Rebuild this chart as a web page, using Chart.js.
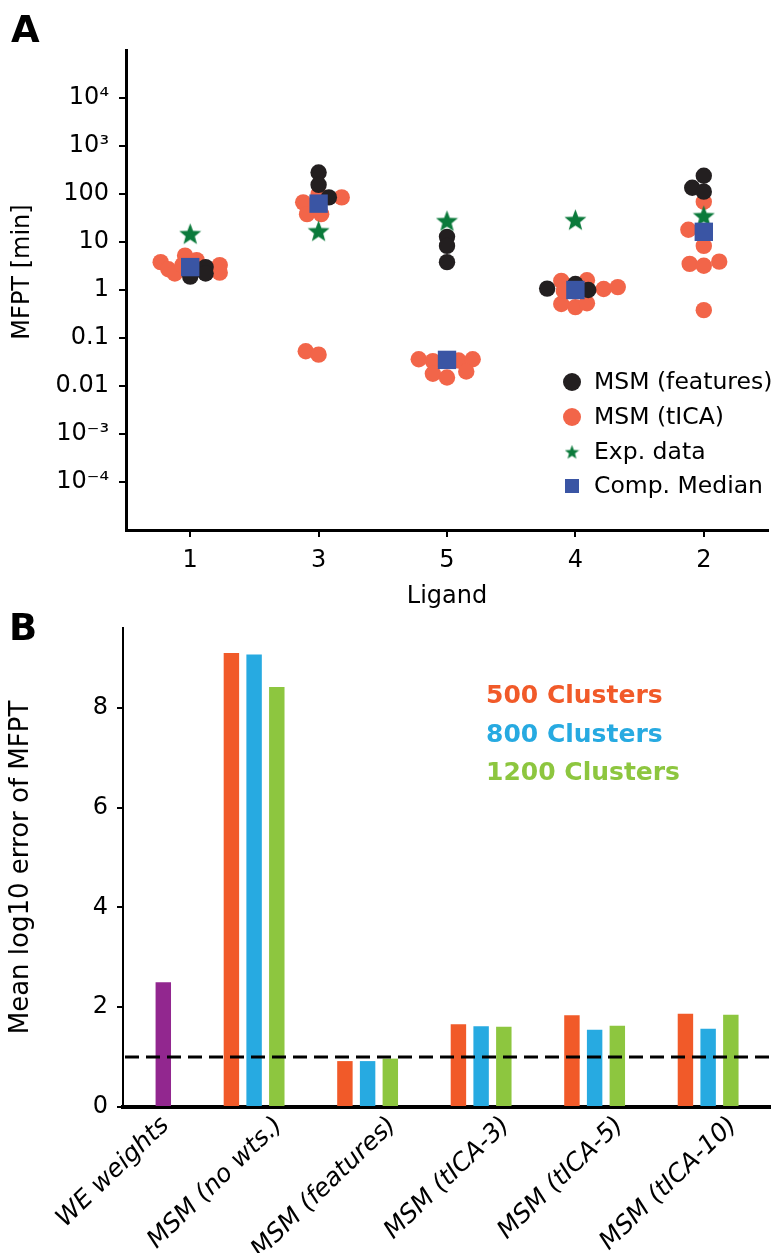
<!DOCTYPE html>
<html>
<head>
<meta charset="utf-8">
<script src="https://cdn.jsdelivr.net/npm/chart.js@4"></script>
<style>
  html, body { margin: 0; padding: 0; background: #fff; width: 781px; height: 1253px; overflow: hidden; }
  #panelA { position: absolute; left: 0; top: 0; }
  #panelB { position: absolute; left: 0; top: 600px; }
</style>
</head>
<body>
<canvas id="panelA" width="781" height="620"></canvas>
<canvas id="panelB" width="781" height="677"></canvas>
<script>
// ---------- Panel A: MFPT per ligand (min) ----------
const ligands = ['1', '3', '5', '4', '2'];

// MSM (features) values per ligand and their horizontal jitter (category units)
const featuresMfpt = [[1.9, 3.0, 2.2], [280, 155, 85], [12.8, 8.3, 3.8], [1.07, 1.0, 1.33], [240, 135, 112]];
const featuresJitter = [[0, 0.12, 0.12], [0, 0, 0.08], [0, 0, 0], [-0.22, 0.1, 0], [0, -0.09, 0]];

// MSM (tICA) values per ligand and jitter
const ticaMfpt = [
  [3.8, 2.7, 2.2, 5.2, 4.2, 3.3, 2.3, 3.3],
  [67, 85, 38, 38, 100, 0.053, 0.045],
  [0.036, 0.033, 0.034, 0.036, 0.018, 0.015, 0.02],
  [1.55, 1.6, 1.05, 1.15, 0.51, 0.44, 0.53, 0.95],
  [69, 18, 8.3, 3.5, 3.2, 3.9, 0.38]
];
const ticaJitter = [
  [-0.23, -0.17, -0.12, -0.04, 0.05, 0.23, 0.23, -0.06],
  [-0.12, 0.18, -0.09, 0.02, 0, -0.1, 0],
  [-0.22, -0.11, 0.09, 0.2, -0.11, 0, 0.15],
  [-0.11, 0.09, 0.22, 0.33, -0.11, 0, 0.09, -0.09],
  [0, -0.12, 0, -0.11, 0, 0.12, 0]
];

const expMfpt = [14.8, 17, 27.6, 29, 35];
const medianMfpt = [3.0, 63, 0.035, 1.0, 16.3];

const mfptTicks = [1e-4, 1e-3, 0.01, 0.1, 1, 10, 100, 1e3, 1e4];
const mfptTickLabels = ['10\u207B\u2074', '10\u207B\u00B3', '0.01', '0.1', '1', '10', '100', '10\u00B3', '10\u2074'];
const mfptTitle = 'MFPT [min]';

// ---------- Panel B: mean log10 error of MFPT ----------
const methods = ['WE weights', 'MSM (no wts.)', 'MSM (features)', 'MSM (tICA-3)', 'MSM (tICA-5)', 'MSM (tICA-10)'];
const err500 = [null, 9.1, 0.92, 1.66, 1.84, 1.87];
const err800 = [null, 9.07, 0.92, 1.62, 1.55, 1.57];
const err1200 = [null, 8.42, 0.97, 1.61, 1.63, 1.85];
const errWE = [2.5, null, null, null, null, null];
const errTicks = [0, 2, 4, 6, 8];
const errThreshold = 1;

Chart.defaults.font.family = "'DejaVu Sans', sans-serif";
Chart.defaults.color = '#000';

const COLORS = {
  features: '#231f20',
  tica: '#f26549',
  exp: '#0b7a3b',
  median: '#3a55a4',
  c500: '#f15a29',
  c800: '#27aae1',
  c1200: '#8dc63f',
  we: '#92278f'
};

// five-point star marker drawn once on a small canvas
function makeStar(size, color) {
  const c = document.createElement('canvas');
  c.width = size; c.height = size;
  const g = c.getContext('2d');
  const cx = size / 2, cy = size / 2 + size * 0.04;
  const outer = size / 2, inner = outer * 0.42;
  g.beginPath();
  for (let i = 0; i < 10; i++) {
    const r = i % 2 === 0 ? outer : inner;
    const a = -Math.PI / 2 + i * Math.PI / 5;
    g.lineTo(cx + r * Math.cos(a), cy + r * Math.sin(a));
  }
  g.closePath();
  g.fillStyle = color;
  g.fill();
  return c;
}
const starBig = makeStar(23, COLORS.exp);
const starSmall = makeStar(15, COLORS.exp);

function jittered(values, jitter) {
  const pts = [];
  values.forEach((vals, i) => vals.forEach((v, k) => pts.push({ x: i + 1 + jitter[i][k], y: v })));
  return pts;
}
const centered = values => values.map((v, i) => ({ x: i + 1, y: v }));

const panelLetter = (id, letter, x, y) => ({
  id,
  afterDraw(chart) {
    const ctx = chart.ctx;
    ctx.save();
    ctx.font = "bold 37px 'DejaVu Sans'";
    ctx.fillStyle = '#000';
    ctx.textBaseline = 'alphabetic';
    ctx.fillText(letter, x, y);
    ctx.restore();
  }
});

// y title of panel A sits a little above the axis centre in the original
const titleA = {
  id: 'titleA',
  afterDraw(chart) {
    const ctx = chart.ctx;
    ctx.save();
    ctx.translate(23, 272);
    ctx.rotate(-Math.PI / 2);
    ctx.font = "24px 'DejaVu Sans'";
    ctx.fillStyle = '#000';
    ctx.textAlign = 'center';
    ctx.textBaseline = 'middle';
    ctx.fillText(mfptTitle, 0, 0);
    ctx.restore();
  }
};

// legend for panel A, drawn inside the plot area
const legendA = {
  id: 'legendA',
  afterDraw(chart) {
    const ctx = chart.ctx;
    const rows = [382, 417, 452, 486];
    ctx.save();
    ctx.font = "23.5px 'DejaVu Sans'";
    ctx.textBaseline = 'middle';
    chart.data.datasets.forEach((ds, i) => {
      const y = rows[i];
      const x = 572;
      ctx.fillStyle = ds.backgroundColor;
      if (ds.pointStyle === 'circle') {
        ctx.beginPath(); ctx.arc(x, y, 9, 0, Math.PI * 2); ctx.fill();
      } else if (ds.pointStyle === 'rect') {
        ctx.fillRect(x - 7, y - 7, 14, 14);
      } else {
        ctx.drawImage(starSmall, x - 7.5, y - 7.5);
      }
      ctx.fillStyle = '#000';
      ctx.fillText(ds.label, 594, y + 1);
    });
    ctx.restore();
  }
};

new Chart(document.getElementById('panelA'), {
  type: 'scatter',
  data: {
    datasets: [
      { label: 'MSM (features)', data: jittered(featuresMfpt, featuresJitter), pointStyle: 'circle',
        backgroundColor: COLORS.features, borderWidth: 0, pointRadius: 8.2, order: 2 },
      { label: 'MSM (tICA)', data: jittered(ticaMfpt, ticaJitter), pointStyle: 'circle',
        backgroundColor: COLORS.tica, borderWidth: 0, pointRadius: 8.2, order: 3 },
      { label: 'Exp. data', data: centered(expMfpt), pointStyle: starBig,
        backgroundColor: COLORS.exp, borderWidth: 0, pointRadius: 11, order: 1 },
      { label: 'Comp. Median', data: centered(medianMfpt), pointStyle: 'rect',
        backgroundColor: COLORS.median, borderWidth: 0, pointRadius: 13, order: 0 }
    ]
  },
  options: {
    responsive: false,
    animation: false,
    devicePixelRatio: 1,
    events: [],
    layout: { padding: { top: 50, right: 13, left: 0, bottom: 0 } },
    plugins: { legend: { display: false }, tooltip: { enabled: false } },
    scales: {
      x: {
        type: 'linear', min: 0.5, max: 5.5,
        afterBuildTicks: s => { s.ticks = ligands.map((_, i) => ({ value: i + 1 })); },
        afterFit: s => { s.height = 90; },
        ticks: { callback: v => ligands[Math.round(v) - 1], font: { size: 24 }, color: '#000',
                 padding: 9, autoSkip: false, maxRotation: 0 },
        grid: { drawOnChartArea: false, drawTicks: true, tickLength: 7, color: '#000', lineWidth: 2 },
        border: { color: '#000', width: 3 },
        title: { display: true, text: 'Ligand', font: { size: 24 }, color: '#000', padding: { top: 0, bottom: 9 } }
      },
      y: {
        type: 'logarithmic', min: 1e-5, max: 1e5,
        afterBuildTicks: s => { s.ticks = mfptTicks.map(v => ({ value: v })); },
        afterFit: s => { s.width = 126; },
        ticks: { callback: (v, i) => mfptTickLabels[i], font: { size: 24 }, color: '#000',
                 padding: 10, autoSkip: false },
        grid: { drawOnChartArea: false, drawTicks: true, tickLength: 7, color: '#000', lineWidth: 2 },
        border: { color: '#000', width: 3 }
      }
    }
  },
  plugins: [legendA, titleA, panelLetter('letterA', 'A', 11, 42)]
});

// ---------- Panel B ----------
const toPoints = arr => arr.map((v, i) => ({ x: i, y: v })).filter(p => p.y !== null);

const thresholdLine = {
  id: 'thresholdLine',
  afterDatasetsDraw(chart) {
    const { ctx, chartArea, scales } = chart;
    const y = scales.y.getPixelForValue(errThreshold);
    ctx.save();
    ctx.strokeStyle = '#000';
    ctx.lineWidth = 3;
    ctx.setLineDash([14, 7]);
    ctx.beginPath();
    ctx.moveTo(chartArea.left + 2, y);
    ctx.lineTo(chartArea.right, y);
    ctx.stroke();
    ctx.restore();
  }
};

const legendB = {
  id: 'legendB',
  afterDraw(chart) {
    const ctx = chart.ctx;
    const rows = [96, 135, 173];
    ctx.save();
    ctx.font = "bold 25px 'DejaVu Sans'";
    ctx.textBaseline = 'middle';
    chart.data.datasets.slice(0, 3).forEach((ds, i) => {
      ctx.fillStyle = ds.backgroundColor;
      ctx.fillText(ds.label, 486, rows[i]);
    });
    ctx.restore();
  }
};

new Chart(document.getElementById('panelB'), {
  type: 'bar',
  data: {
    datasets: [
      { label: '500 Clusters', data: toPoints(err500), backgroundColor: COLORS.c500, stack: 's500' },
      { label: '800 Clusters', data: toPoints(err800), backgroundColor: COLORS.c800, stack: 's800' },
      { label: '1200 Clusters', data: toPoints(err1200), backgroundColor: COLORS.c1200, stack: 's1200' },
      { label: 'WE weights', data: toPoints(errWE), backgroundColor: COLORS.we, stack: 's1200' }
    ]
  },
  options: {
    responsive: false,
    animation: false,
    devicePixelRatio: 1,
    events: [],
    categoryPercentage: 0.6,
    barPercentage: 0.68,
    layout: { padding: { top: 28, right: 11, left: 0, bottom: 0 } },
    plugins: { legend: { display: false }, tooltip: { enabled: false } },
    scales: {
      x: {
        type: 'linear', min: -0.155, max: 5.545, offset: false,
        afterBuildTicks: s => { s.ticks = methods.map((_, i) => ({ value: i })); },
        afterFit: s => { s.height = 170; },
        ticks: { callback: v => methods[Math.round(v)], autoSkip: false, minRotation: 44, maxRotation: 44,
                 labelOffset: 25, padding: 4, font: { size: 25, style: 'italic' }, color: '#000' },
        grid: { display: false, drawTicks: false, offset: false },
        border: { color: '#000', width: 4 }
      },
      y: {
        min: 0, max: 9.6,
        afterBuildTicks: s => { s.ticks = errTicks.map(v => ({ value: v })); },
        afterFit: s => { s.width = 123; },
        ticks: { font: { size: 24 }, color: '#000', padding: 9 },
        grid: { drawOnChartArea: false, drawTicks: true, tickLength: 6, color: '#000', lineWidth: 2 },
        border: { color: '#000', width: 2 },
        title: { display: true, text: 'Mean log10 error of MFPT', font: { size: 26 }, color: '#000',
                 padding: { top: 6, bottom: 0 } }
      }
    }
  },
  plugins: [thresholdLine, legendB, panelLetter('letterB', 'B', 9, 40)]
});
</script>
</body>
</html>
